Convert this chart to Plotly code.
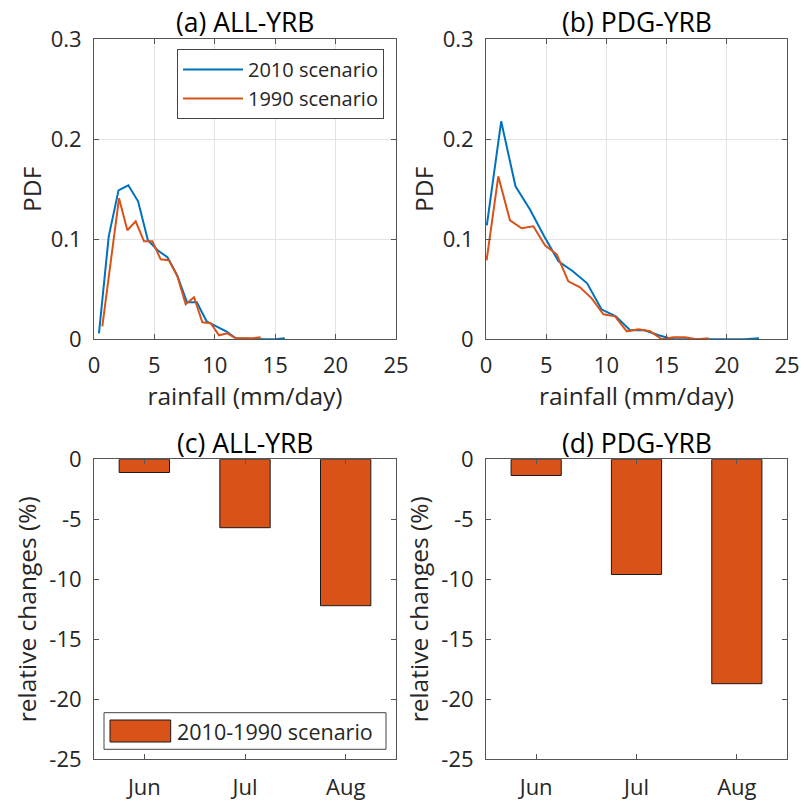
import plotly.graph_objects as go

# ---------------- data ----------------
all_2010_x = [0.41, 1.22, 2.03, 2.84, 3.65, 4.46, 5.27, 6.08, 6.89, 7.70,
              8.51, 9.32, 10.13, 10.94, 11.75, 12.56, 13.37, 14.18, 14.99, 15.80]
all_2010_pdf = [0.006, 0.103, 0.149, 0.154, 0.138, 0.099, 0.089, 0.082, 0.064, 0.037,
                0.037, 0.018, 0.013, 0.008, 0.001, 0.0005, 0.0, 0.0, 0.0, 0.001]

all_1990_x = [0.69, 2.07, 2.76, 3.45, 4.14, 4.83, 5.52, 6.21, 6.90, 7.59,
              8.28, 8.97, 9.66, 10.35, 11.04, 11.73, 12.42, 13.11, 13.80]
all_1990_pdf = [0.013, 0.141, 0.109, 0.118, 0.098, 0.098, 0.080, 0.079, 0.063, 0.035,
                0.042, 0.017, 0.016, 0.004, 0.006, 0.001, 0.001, 0.001, 0.002]

pdg_2010_x = [0.07, 1.26, 2.45, 3.64, 4.83, 6.02, 7.21, 8.40, 9.59, 10.78,
              11.97, 13.16, 14.35, 15.54, 16.73, 17.92, 19.11, 20.30, 21.49, 22.68]
pdg_2010_pdf = [0.114, 0.218, 0.153, 0.130, 0.103, 0.078, 0.068, 0.056, 0.030, 0.023,
                0.009, 0.009, 0.004, 0.0, 0.0, 0.0, 0.0, 0.0, 0.0, 0.001]

pdg_1990_x = [0.05, 1.02, 1.99, 2.96, 3.93, 4.90, 5.87, 6.84, 7.81, 8.78,
              9.75, 10.72, 11.69, 12.66, 13.63, 14.60, 15.57, 16.54, 17.51, 18.48]
pdg_1990_pdf = [0.079, 0.163, 0.119, 0.111, 0.113, 0.094, 0.085, 0.058, 0.052, 0.041,
                0.025, 0.023, 0.008, 0.010, 0.008, 0.0, 0.002, 0.002, 0.0, 0.001]

months = ["Jun", "Jul", "Aug"]
all_change = [-1.1, -5.7, -12.2]
pdg_change = [-1.35, -9.6, -18.7]

pdf_ticks = [0, 0.1, 0.2, 0.3]
pdf_ticktext = ["0", "0.1", "0.2", "0.3"]
rain_ticks = [0, 5, 10, 15, 20, 25]
change_ticks = [-25, -20, -15, -10, -5, 0]
change_ticktext = ["-25", "-20", "-15", "-10", "-5", "0"]
bar_legend_text = "2010-1990 scenario"

# ---------------- style ----------------
FONT = "Open Sans"
BLUE = "#0072BD"
ORANGE = "#D95319"
TXT = "#262626"
LINE = "#555555"
GRID = "#e3e3e3"
W, H = 804, 805

xl = [94 / W, 396 / W]
xr = [486 / W, 787 / W]
yt = [1 - 339.3 / H, 1 - 39.3 / H]
yb = [1 - 759.3 / H, 1 - 459.3 / H]

fig = go.Figure()

fig.add_trace(go.Scatter(x=all_2010_x, y=all_2010_pdf, mode="lines", name="2010 scenario",
                         line=dict(color=BLUE, width=2), xaxis="x", yaxis="y", legend="legend"))
fig.add_trace(go.Scatter(x=all_1990_x, y=all_1990_pdf, mode="lines", name="1990 scenario",
                         line=dict(color=ORANGE, width=2), xaxis="x", yaxis="y", legend="legend"))
fig.add_trace(go.Scatter(x=pdg_2010_x, y=pdg_2010_pdf, mode="lines", name="2010 scenario",
                         line=dict(color=BLUE, width=2), xaxis="x2", yaxis="y2", showlegend=False))
fig.add_trace(go.Scatter(x=pdg_1990_x, y=pdg_1990_pdf, mode="lines", name="1990 scenario",
                         line=dict(color=ORANGE, width=2), xaxis="x2", yaxis="y2", showlegend=False))
fig.add_trace(go.Bar(x=months, y=all_change, width=0.5, name=bar_legend_text,
                     marker=dict(color=ORANGE, line=dict(color="#1a1a1a", width=1)),
                     xaxis="x3", yaxis="y3", showlegend=False))
fig.add_trace(go.Bar(x=months, y=pdg_change, width=0.5, name=bar_legend_text,
                     marker=dict(color=ORANGE, line=dict(color="#1a1a1a", width=1)),
                     xaxis="x4", yaxis="y4", showlegend=False))

tickfont = dict(family=FONT, size=22, color=TXT)
titlefont = dict(family=FONT, size=24.5, color=TXT)


def axis(domain, anchor, grid, **kw):
    d = dict(domain=domain, anchor=anchor, showgrid=grid, gridcolor=GRID, gridwidth=1,
             zeroline=False, showline=True, linecolor=LINE, linewidth=1, mirror="ticks",
             ticks="inside", ticklen=5, tickcolor=LINE, tickfont=tickfont, automargin=False)
    d.update(kw)
    return d


fig.update_layout(
    width=W, height=H, margin=dict(l=0, r=0, t=0, b=0, autoexpand=False),
    plot_bgcolor="white", paper_bgcolor="white",
    font=dict(family=FONT, color=TXT),
    xaxis=axis(xl, "y", True, range=[0, 25], tickvals=rain_ticks, ticklabelstandoff=6,
               title=dict(text="rainfall (mm/day)", font=titlefont, standoff=4)),
    yaxis=axis(yt, "x", True, range=[0, 0.3], tickvals=pdf_ticks, ticktext=pdf_ticktext,
               ticklabelstandoff=7, title=dict(text="PDF", font=titlefont, standoff=2)),
    xaxis2=axis(xr, "y2", True, range=[0, 25], tickvals=rain_ticks, ticklabelstandoff=6,
                title=dict(text="rainfall (mm/day)", font=titlefont, standoff=4)),
    yaxis2=axis(yt, "x2", True, range=[0, 0.3], tickvals=pdf_ticks, ticktext=pdf_ticktext,
                ticklabelstandoff=7, title=dict(text="PDF", font=titlefont, standoff=2)),
    xaxis3=axis(xl, "y3", False, range=[-0.5, 2.5], ticklabelstandoff=8),
    yaxis3=axis(yb, "x3", False, range=[-25, 0], tickvals=change_ticks, ticktext=change_ticktext,
                ticklabelstandoff=7, title=dict(text="relative changes (%)", font=titlefont, standoff=5)),
    xaxis4=axis(xr, "y4", False, range=[-0.5, 2.5], ticklabelstandoff=8),
    yaxis4=axis(yb, "x4", False, range=[-25, 0], tickvals=change_ticks, ticktext=change_ticktext,
                ticklabelstandoff=7, title=dict(text="relative changes (%)", font=titlefont, standoff=5)),
    legend=dict(x=177 / W, y=1 - 49 / H, xanchor="left", yanchor="top", bgcolor="white",
                bordercolor="#444", borderwidth=1, font=dict(family=FONT, size=20, color=TXT),
                itemwidth=60, tracegroupgap=0),
)

# legend box for the bar panels (wide swatch as in the original)
fig.add_shape(type="rect", xref="paper", yref="paper", x0=104 / W, x1=386 / W,
              y0=1 - 749.3 / H, y1=1 - 712.7 / H, line=dict(color="#444", width=1),
              fillcolor="white", layer="above")
fig.add_shape(type="rect", xref="paper", yref="paper", x0=110 / W, x1=170.7 / W,
              y0=1 - 742 / H, y1=1 - 720 / H, line=dict(color="#1a1a1a", width=1),
              fillcolor=ORANGE, layer="above")
fig.add_annotation(text=bar_legend_text, x=175 / W, y=1 - 731 / H, xref="paper", yref="paper",
                   showarrow=False, xanchor="left", yanchor="middle",
                   font=dict(family=FONT, size=21.5, color=TXT))

titles = ["(a) ALL-YRB", "(b) PDG-YRB", "(c) ALL-YRB", "(d) PDG-YRB"]
tpos = [((xl[0] + xl[1]) / 2, 1 - 22 / H), ((xr[0] + xr[1]) / 2, 1 - 22 / H),
        ((xl[0] + xl[1]) / 2, 1 - 443 / H), ((xr[0] + xr[1]) / 2, 1 - 443 / H)]
for t, (tx, ty) in zip(titles, tpos):
    fig.add_annotation(text=t, x=tx, y=ty, xref="paper", yref="paper", showarrow=False,
                       xanchor="center", yanchor="middle",
                       font=dict(family=FONT, size=26.5, color="#000"))

fig.write_html("out.html", config={"displayModeBar": False},
               post_script="document.body.style.margin='0px';")
